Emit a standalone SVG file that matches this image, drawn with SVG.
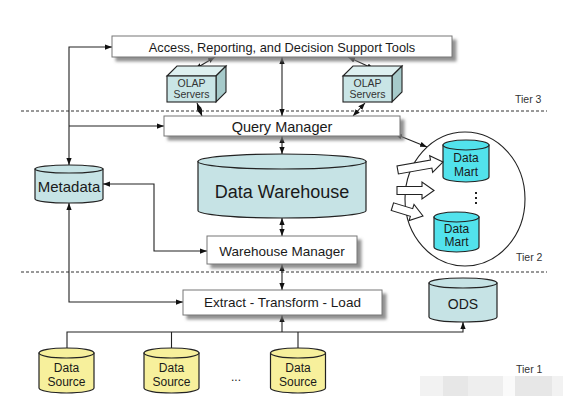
<svg xmlns="http://www.w3.org/2000/svg" width="570" height="409" viewBox="0 0 570 409">
<style>
text{font-family:"Liberation Sans",Arial,sans-serif;fill:#1a1a1a;text-anchor:middle}
.box{fill:#fff;stroke:#777;stroke-width:1}
.cyl{fill:#c6e3e5;stroke:#222;stroke-width:1.2}
.dm{fill:#52e2ec;stroke:#222;stroke-width:1.2}
.ds{fill:#f7f09c;stroke:#222;stroke-width:1.2}
.ln{fill:none;stroke:#222;stroke-width:1.1}
.dash{fill:none;stroke:#333;stroke-width:1;stroke-dasharray:3 2}
.tier{font-size:10.5px;fill:#333;text-anchor:start}
.cf{fill:#c9e5e6;stroke:#222;stroke-width:1.1}
.ct{fill:#def0f0;stroke:#222;stroke-width:1.1}
.cs{fill:#a6caca;stroke:#222;stroke-width:1.1}
.olap{font-size:10.5px;fill:#333}
.blk{fill:#fff;stroke:#222;stroke-width:1.1}
</style>
<defs>
<marker id="ah" viewBox="0 0 8 6" refX="8" refY="3" markerWidth="7" markerHeight="5.5" markerUnits="userSpaceOnUse" orient="auto-start-reverse">
<path d="M0,0 L8,3 L0,6 z" fill="#111"/>
</marker>
<filter id="sh" x="-10%" y="-30%" width="130%" height="180%">
<feDropShadow dx="4" dy="4" stdDeviation="1.8" flood-color="#777" flood-opacity="0.8"/>
</filter>
<path id="barrow" d="M0,-4 L-12,-4 L-12,-8.5 L0,0 L-12,8.5 L-12,4 Z"/>
</defs>
<rect width="570" height="409" fill="#fff"/>

<g id="tiers">
<line class="dash" x1="21" y1="111" x2="547" y2="111"/>
<line class="dash" x1="21" y1="272" x2="547" y2="272"/>
<text class="tier" x="515" y="103">Tier 3</text>
<text class="tier" x="516" y="261">Tier 2</text>
<text class="tier" x="516" y="373">Tier 1</text>
</g>

<g id="connectors">
<path class="ln" d="M69,165 V47 H112" marker-start="url(#ah)" marker-end="url(#ah)"/>
<path class="ln" d="M69,126 H164" marker-end="url(#ah)"/>
<path class="ln" d="M69,203 V302 H183" marker-start="url(#ah)" marker-end="url(#ah)"/>
<path class="ln" d="M103,184 H154 V251 H207" marker-start="url(#ah)" marker-end="url(#ah)"/>
<path class="ln" d="M282,57 V116" marker-start="url(#ah)" marker-end="url(#ah)"/>
<path class="ln" d="M282,136 V154" marker-start="url(#ah)" marker-end="url(#ah)"/>
<path class="ln" d="M282,218 V236" marker-start="url(#ah)" marker-end="url(#ah)"/>
<path class="ln" d="M282,264 V290" marker-start="url(#ah)" marker-end="url(#ah)"/>
<path class="ln" d="M215,57 L195,69" marker-start="url(#ah)" marker-end="url(#ah)"/>
<path class="ln" d="M197,103 L202,116" marker-start="url(#ah)" marker-end="url(#ah)"/>
<path class="ln" d="M348,57 L374,69" marker-start="url(#ah)" marker-end="url(#ah)"/>
<path class="ln" d="M365,103 L353,116" marker-start="url(#ah)" marker-end="url(#ah)"/>
<path class="ln" d="M395,134 L427,147" marker-start="url(#ah)" marker-end="url(#ah)"/>
<path class="ln" d="M67,348 V332 H463 V322" marker-end="url(#ah)"/>
<path class="ln" d="M171.5,348 V332 M298,348 V332"/>
<path class="ln" d="M282,332 V315" marker-end="url(#ah)"/>
</g>

<g id="tools">
<rect class="box" x="112" y="36" width="340" height="21" filter="url(#sh)"/>
<text x="282" y="52" font-size="12.8">Access, Reporting, and Decision Support Tools</text>
</g>

<g id="olap1">
<path class="ct" d="M167,76 L177,66 L226,66 L216,76 Z"/>
<path class="cs" d="M216,76 L226,66 L226,92 L216,102 Z"/>
<rect class="cf" x="167" y="76" width="49" height="26"/>
<text class="olap" x="191.5" y="86.5">OLAP</text>
<text class="olap" x="191.5" y="97.5">Servers</text>
</g>

<g id="olap2">
<path class="ct" d="M343,76 L353,66 L402,66 L392,76 Z"/>
<path class="cs" d="M392,76 L402,66 L402,92 L392,102 Z"/>
<rect class="cf" x="343" y="76" width="49" height="26"/>
<text class="olap" x="367.5" y="86.5">OLAP</text>
<text class="olap" x="367.5" y="97.5">Servers</text>
</g>

<g id="querymanager">
<rect class="box" x="164" y="116" width="236" height="20" filter="url(#sh)"/>
<text x="282" y="131.5" font-size="14.5">Query Manager</text>
</g>

<g id="metadata">
<path class="cyl" d="M35,169 V199 A34,4 0 0 0 103,199 V169 Z"/>
<ellipse class="cyl" cx="69" cy="169" rx="34" ry="4"/>
<text x="69" y="191.5" font-size="15">Metadata</text>
</g>

<g id="datawarehouse">
<path class="cyl" d="M198,161.5 V210.5 A84,7.5 0 0 0 366,210.5 V161.5 Z"/>
<ellipse class="cyl" cx="282" cy="161.5" rx="84" ry="7.5"/>
<text x="282" y="197.5" font-size="18">Data Warehouse</text>
</g>

<g id="warehousemanager">
<rect class="box" x="207" y="236" width="150" height="28" filter="url(#sh)"/>
<text x="282" y="255.5" font-size="13.5">Warehouse Manager</text>
</g>

<g id="datamarts">
<ellipse cx="465" cy="199" rx="60" ry="67" fill="none" stroke="#222" stroke-width="1.1"/>
<path class="dm" d="M443,145 V177 A23,5 0 0 0 489,177 V145 Z"/>
<ellipse class="dm" cx="466" cy="145" rx="23" ry="5"/>
<text x="466" y="161.5" font-size="12">Data</text>
<text x="466" y="175.5" font-size="12">Mart</text>
<path class="dm" d="M434,217 V247 A22.5,5 0 0 0 479,247 V217 Z"/>
<ellipse class="dm" cx="456.5" cy="217" rx="22.5" ry="5"/>
<text x="456.5" y="232.5" font-size="12">Data</text>
<text x="456.5" y="245.5" font-size="12">Mart</text>
<rect x="475" y="192" width="2" height="2" fill="#222"/>
<rect x="475" y="197" width="2" height="2" fill="#222"/>
<rect x="475" y="202" width="2" height="2" fill="#222"/>
</g>

<g id="blockarrows">
<path class="blk" transform="translate(443,162) rotate(-10)" d="M0,0 L-12,-8.5 L-12,-4 L-46,-4 L-46,4 L-12,4 L-12,8.5 Z"/>
<path class="blk" transform="translate(434,190.5)" d="M0,0 L-12,-8.5 L-12,-4 L-37,-4 L-37,4 L-12,4 L-12,8.5 Z"/>
<path class="blk" transform="translate(423,216) rotate(17)" d="M0,0 L-12,-8.5 L-12,-4 L-32,-4 L-32,4 L-12,4 L-12,8.5 Z"/>
</g>

<g id="etl">
<rect class="box" x="183" y="290" width="199" height="25" filter="url(#sh)"/>
<text x="282.5" y="307" font-size="13.5">Extract - Transform - Load</text>
</g>

<g id="ods">
<path class="cyl" d="M429,283 V317 A34,5 0 0 0 497,317 V283 Z"/>
<ellipse class="cyl" cx="463" cy="283" rx="34" ry="5"/>
<text x="463" y="308.5" font-size="14">ODS</text>
</g>

<g id="datasource1">
<path class="ds" d="M39,353 V388 A27.5,5 0 0 0 94,388 V353 Z"/>
<ellipse class="ds" cx="66.5" cy="353" rx="27.5" ry="5"/>
<text x="66.5" y="372" font-size="12">Data</text>
<text x="66.5" y="386" font-size="12">Source</text>
</g>
<g id="datasource2">
<path class="ds" d="M144,353 V388 A27.5,5 0 0 0 199,388 V353 Z"/>
<ellipse class="ds" cx="171.5" cy="353" rx="27.5" ry="5"/>
<text x="171.5" y="372" font-size="12">Data</text>
<text x="171.5" y="386" font-size="12">Source</text>
</g>
<g id="datasource3">
<path class="ds" d="M270.5,353 V388 A27.5,5 0 0 0 325.5,388 V353 Z"/>
<ellipse class="ds" cx="298" cy="353" rx="27.5" ry="5"/>
<text x="298" y="372" font-size="12">Data</text>
<text x="298" y="386" font-size="12">Source</text>
</g>
<text x="236" y="381" font-size="12">...</text>

<g id="watermark">
<rect x="420" y="376" width="23" height="20" fill="#f2f2f2"/>
<rect x="443" y="376" width="25" height="20" fill="#e7e7e7"/>
<rect x="468" y="376" width="35" height="20" fill="#eeeeee"/>
<rect x="503" y="376" width="12" height="20" fill="#fafafa"/>
<rect x="515" y="376" width="37" height="20" fill="#e7e7e7"/>
<rect x="552" y="376" width="11" height="20" fill="#f2f2f2"/>
</g>
</svg>
